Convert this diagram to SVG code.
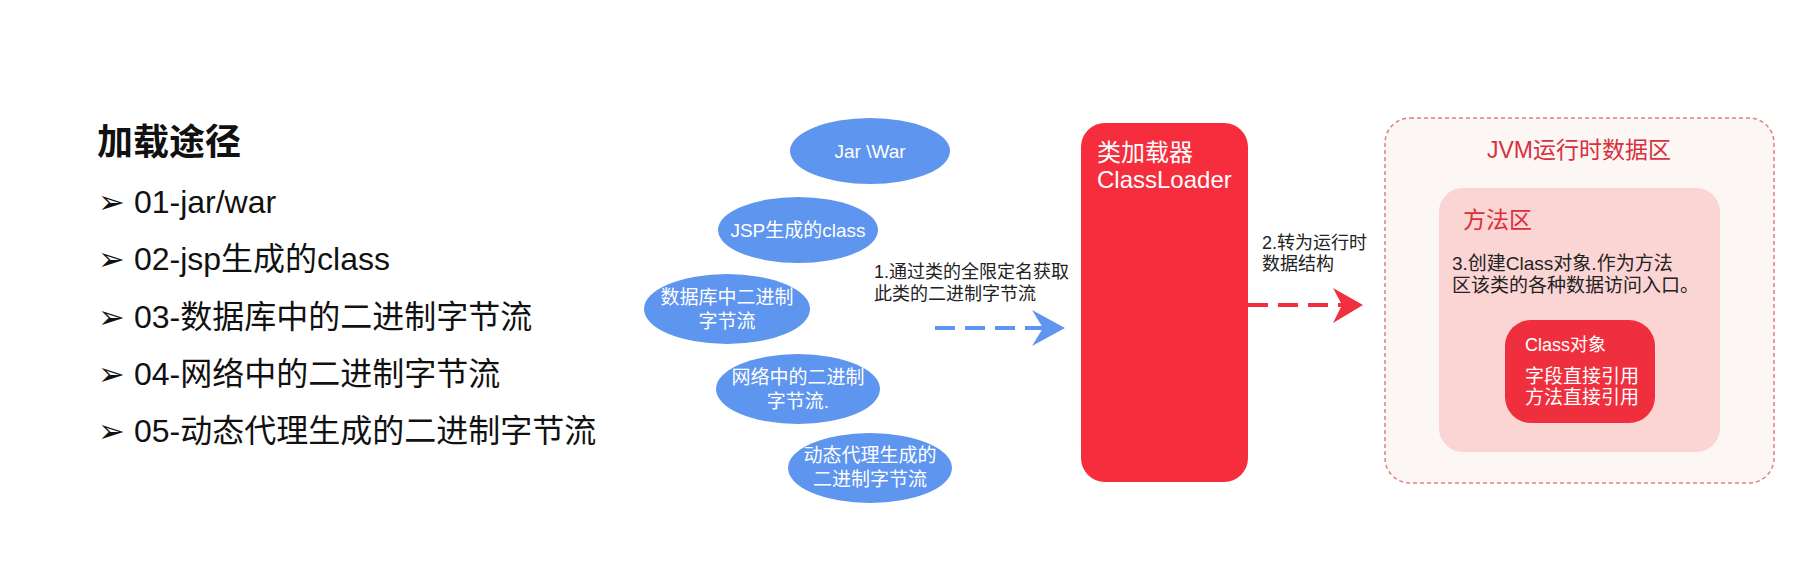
<svg xmlns="http://www.w3.org/2000/svg" width="1797" height="578" viewBox="0 0 1797 578">
<style>
text{font-family:"Liberation Sans","Noto Sans CJK SC",sans-serif}
.e{fill:#5e95ee}
.et{fill:#fff;font-size:19px;text-anchor:middle}
.li{font-size:32px;fill:#111}
.lb{font-size:18px;fill:#222}
</style>
<rect width="1797" height="578" fill="#fff"/>
<g id="left-list">
<text x="97" y="155" font-size="36" font-weight="bold" fill="#111">加载途径</text>
<text class="li" x="98" y="213">➢ 01-jar/war</text>
<text class="li" x="98" y="270">➢ 02-jsp生成的class</text>
<text class="li" x="98" y="328">➢ 03-数据库中的二进制字节流</text>
<text class="li" x="98" y="385">➢ 04-网络中的二进制字节流</text>
<text class="li" x="98" y="442">➢ 05-动态代理生成的二进制字节流</text>
</g>
<g id="n-jar"><ellipse class="e" cx="870" cy="151" rx="80" ry="33"/><text class="et" x="870" y="158">Jar \War</text></g>
<g id="n-jsp"><ellipse class="e" cx="798" cy="230" rx="80" ry="33"/><text class="et" x="798" y="237">JSP生成的class</text></g>
<g id="n-db"><ellipse class="e" cx="727" cy="309" rx="83" ry="35"/><text class="et" x="727" y="304">数据库中二进制</text><text class="et" x="727" y="328">字节流</text></g>
<g id="n-net"><ellipse class="e" cx="798" cy="389" rx="82" ry="35"/><text class="et" x="798" y="384">网络中的二进制</text><text class="et" x="798" y="408">字节流.</text></g>
<g id="n-proxy"><ellipse class="e" cx="870" cy="468" rx="82" ry="35"/><text class="et" x="870" y="462">动态代理生成的</text><text class="et" x="870" y="486">二进制字节流</text></g>
<g id="n-loader">
<rect x="1081" y="123" width="167" height="359" rx="24" fill="#f52d3c"/>
<text x="1097" y="161" font-size="24" fill="#fff">类加载器</text>
<text x="1097" y="188" font-size="24" fill="#fff">ClassLoader</text>
</g>
<g id="n-jvm">
<rect x="1385" y="118" width="389" height="365" rx="25" fill="#fcf6f4" stroke="#df7f80" stroke-width="1.5" stroke-dasharray="4 3"/>
<text x="1579" y="158" font-size="23" fill="#d8303c" text-anchor="middle">JVM运行时数据区</text>
</g>
<g id="n-method">
<rect x="1439" y="188" width="281" height="264" rx="24" fill="#fbd4d4"/>
<text x="1463" y="228" font-size="23" fill="#d8303c">方法区</text>
<text x="1452" y="270" font-size="19" fill="#222">3.创建Class对象.作为方法</text>
<text x="1452" y="292" font-size="19" fill="#222">区该类的各种数据访问入口。</text>
</g>
<g id="n-classobj">
<rect x="1505" y="320" width="150" height="103" rx="26" fill="#f02f3e"/>
<text x="1525" y="351" font-size="18" fill="#fff">Class对象</text>
<text x="1525" y="383" font-size="19" fill="#fff">字段直接引用</text>
<text x="1525" y="404" font-size="19" fill="#fff">方法直接引用</text>
</g>
<g id="connectors">
<line x1="935" y1="328" x2="1045" y2="328" stroke="#5e95ee" stroke-width="4" stroke-dasharray="20 10"/>
<path d="M1032,310 L1065,328 L1032,346 L1043,328z" fill="#5e95ee"/>
<text class="lb" x="874" y="278">1.通过类的全限定名获取</text>
<text class="lb" x="874" y="300">此类的二进制字节流</text>
<line x1="1248" y1="305" x2="1343" y2="305" stroke="#f0303f" stroke-width="4" stroke-dasharray="20 10"/>
<path d="M1333,288 L1363,305 L1333,323 L1342,305z" fill="#f0303f"/>
<text class="lb" x="1262" y="249">2.转为运行时</text>
<text class="lb" x="1262" y="270">数据结构</text>
</g>
</svg>
